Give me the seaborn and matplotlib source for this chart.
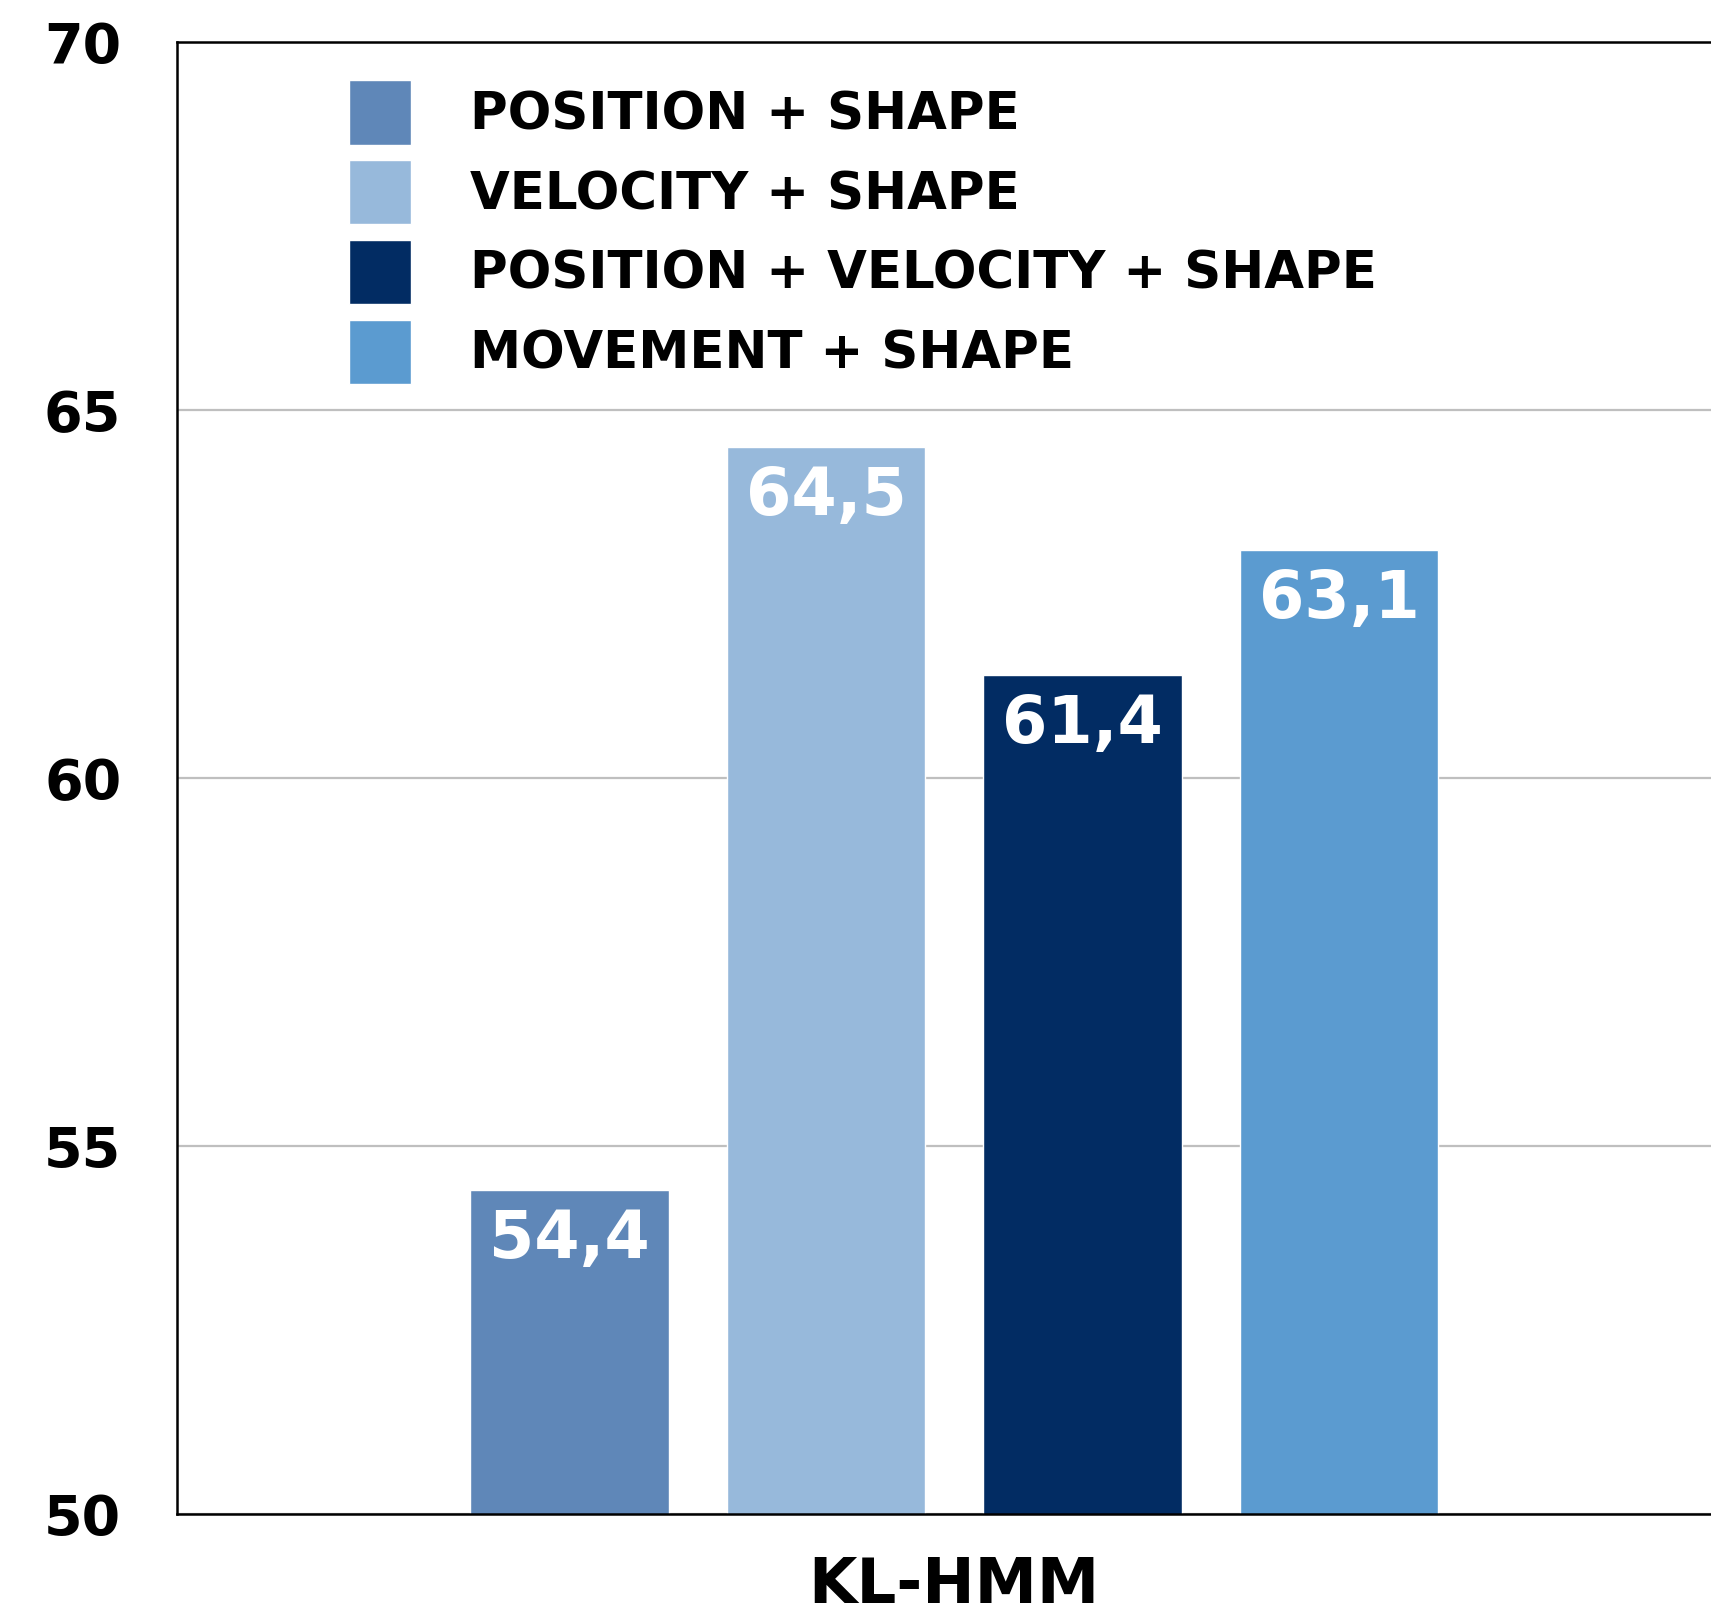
import pandas as pd
import numpy as np
import matplotlib
matplotlib.use("Agg")
import matplotlib.pyplot as plt
import seaborn as sns

# data
models = ["KL-HMM"]
features = ["Position + Shape", "Velocity + Shape",
            "Position + Velocity + Shape", "Movement + Shape"]
accuracy = [54.4, 64.5, 61.4, 63.1]
colors = ["#5F87B8", "#97B9DB", "#022C63", "#5B9BD0"]
yticks = [50, 55, 60, 65, 70]

sns.set_style("white")
plt.rcParams["font.family"] = ["DejaVu Sans"]
plt.rcParams["font.weight"] = "bold"
plt.rcParams["text.color"] = "black"
plt.rcParams["xtick.color"] = "black"
plt.rcParams["ytick.color"] = "black"

df = pd.DataFrame({"model": models * len(features),
                   "features": features,
                   "accuracy": accuracy})

fig = plt.figure(figsize=(17.11, 16.16), dpi=100)
ax = fig.add_axes([0.1034, 0.0631, 0.9086, 0.9109])

sns.barplot(data=df, x="model", y="accuracy", hue="features",
            palette=colors, saturation=1, width=0.66, gap=0.226,
            ax=ax, zorder=2)

for cont, v in zip(ax.containers, accuracy):
    ax.bar_label(cont, labels=[f"{v:.1f}".replace(".", ",")],
                 padding=-59, color="white", fontsize=47, fontweight="bold")

ax.set_ylim(50, 70)
ax.set_yticks(yticks)
ax.set_xlim(-0.5, 0.5)
ax.set_xlabel("")
ax.set_ylabel("")
ax.yaxis.grid(True, color="#BFBFBF", lw=1.6, zorder=0)
ax.set_axisbelow(True)
ax.tick_params(axis="y", length=0, pad=40, labelsize=40)
ax.tick_params(axis="x", length=0, pad=30, labelsize=45)
for lab in ax.get_yticklabels() + ax.get_xticklabels():
    lab.set_fontweight("bold")

for side in ["left", "top", "bottom"]:
    ax.spines[side].set_color("black")
    ax.spines[side].set_linewidth(1.8)
ax.spines["right"].set_visible(False)

handles, labels = ax.get_legend_handles_labels()
ax.legend(handles, [l.upper() for l in labels], loc="upper left",
          bbox_to_anchor=(0.1106, 0.974), frameon=False,
          handlelength=1.2, handleheight=1.55, handletextpad=1.15,
          labelspacing=0.3, borderpad=0, borderaxespad=0,
          prop={"weight": "bold", "size": 37})

fig.savefig("out.png", dpi=100)
